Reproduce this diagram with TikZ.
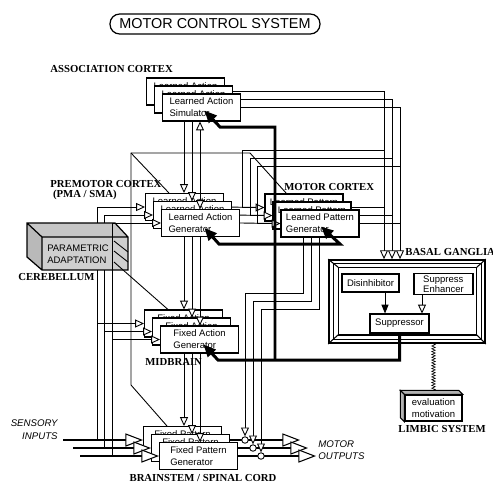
\documentclass[tikz,border=0pt]{standalone}
\usepackage{fontspec}
\setmainfont{Liberation Serif}
\setsansfont{Liberation Sans}
\usetikzlibrary{positioning,calc,arrows.meta,decorations.pathmorphing}

\pgfdeclarelayer{back}
\pgfsetlayers{back,main}

\tikzset{
  unit/.style={draw, fill=white, line width=0.6pt, minimum width=1.56cm,
    minimum height=0.54cm, inner sep=1pt, align=left,
    font=\sffamily\fontsize{5.4}{6.8}\selectfont},
  peek/.style={text height=4pt, text depth=6.8pt},
  bgunit/.style={draw, fill=white, line width=0.6pt, inner sep=1pt,
    align=left, font=\sffamily\fontsize{5.4}{5.9}\selectfont},
  tag/.style={inner sep=0pt, align=left,
    font=\bfseries\fontsize{6.1}{5.7}\selectfont},
  io/.style={inner sep=0pt, font=\sffamily\itshape\fontsize{5.5}{7.4}\selectfont},
  wire/.style={line width=0.5pt},
  into/.style={-{Triangle[fill=white,length=5pt,width=4.5pt,line width=0.5pt]}},
  bothway/.style={{Triangle[fill=white,length=5pt,width=4.5pt,line width=0.5pt]}-{Triangle[fill=white,length=5pt,width=4.5pt,line width=0.5pt]}},
  fat/.style={line width=1.4pt, -{Triangle[fill=white,length=10pt,width=7.5pt,line width=0.6pt]}},
  fbk/.style={line width=1.7pt, -{Triangle[length=7pt,width=6pt]}},
  sum/.style={circle, draw, fill=white, minimum size=0.13cm, inner sep=0pt, line width=0.5pt},
}

% three stacked modules, front one named #1
\newcommand{\lvstack}[5]{%
  \node[unit, peek] (#1b) at ($(#2,#3)+(-16,-16)$) {#4};
  \node[unit, peek] (#1m) at ($(#2,#3)+(-8,-8)$) {#4};
  \node[unit] (#1) at (#2,#3) {#4\\#5};
}

\begin{document}
\begin{tikzpicture}[x=0.02cm, y=-0.02cm]
\useasboundingbox (0,0) rectangle (493,485);

\node[draw, rounded corners=5.5pt, line width=0.7pt, minimum width=4.2cm,
  minimum height=0.4cm, inner sep=1pt,
  font=\sffamily\fontsize{8.2}{9}\selectfont] (title) at (215,24) {MOTOR CONTROL SYSTEM};

% wire columns and rows
\coordinate (d1) at (184,0);
\coordinate (d2) at (192,0);
\coordinate (d3) at (200,0);
\coordinate (v1) at (97,0);
\coordinate (v2) at (104,0);
\coordinate (v3) at (112,0);
\coordinate (b1) at (384,0);
\coordinate (b2) at (392,0);
\coordinate (b3) at (400,0);
\coordinate (m1) at (242,0);
\coordinate (m2) at (250,0);
\coordinate (m3) at (257,0);
\coordinate (r1) at (0,150);
\coordinate (r2) at (0,158);
\coordinate (r3) at (0,166);
\coordinate (o1) at (303,0);
\coordinate (o2) at (311,0);
\coordinate (o3) at (319,0);
\coordinate (t1) at (0,293);
\coordinate (t2) at (0,301);
\coordinate (t3) at (0,309);
\coordinate (k1) at (245,0);
\coordinate (k2) at (253,0);
\coordinate (k3) at (261,0);
\coordinate (sx1) at (63,0);
\coordinate (sx2) at (73,0);
\coordinate (sx3) at (80,0);
\coordinate (ox1) at (300,0);
\coordinate (ox2) at (308,0);
\coordinate (ox3) at (316,0);

% levels
\lvstack{as}{201.5}{107.5}{Learned Action}{Simulator}
\lvstack{pm}{200.5}{223}{Learned Action}{Generator}
\lvstack{mc}{320}{223.5}{Learned Pattern}{Generator}
\lvstack{mb}{199.5}{339.5}{Fixed Action}{Generator}
\lvstack{bs}{198.5}{456}{Fixed Pattern}{Generator}

\node[sum] (sum1) at (k1 |- bsb.east) {};
\node[sum] (sum2) at (k2 |- bsm.east) {};
\node[sum] (sum3) at (k3 |- bs.east) {};

% basal ganglia
\node[draw, line width=1pt, minimum width=3.12cm, minimum height=1.66cm] (bg) at (407,301.5) {};
\draw[line width=0.6pt] ($(bg.north west)+(5,4)$) rectangle ($(bg.south east)+(-4,-4)$);
\draw[line width=0.7pt] ($(bg.north west)+(10,8)$) rectangle ($(bg.south east)+(-9,-9)$);
\draw[line width=0.6pt] (bg.north west) -- ++(10,8) (bg.north east) -- ++(-9,8)
  (bg.south west) -- ++(10,-9) (bg.south east) -- ++(-9,-9);
\node[bgunit, minimum width=1.14cm, minimum height=0.36cm] (dis) at (370.5,283) {Disinhibitor};
\node[bgunit, minimum width=1.18cm, minimum height=0.4cm] (enh) at (443.5,284) {Suppress\\Enhancer};
\node[bgunit, minimum width=1.18cm, minimum height=0.38cm] (sup) at (399.5,323.5) {Suppressor};
\coordinate (a1) at (385,0);
\coordinate (a2) at (422,0);
\draw[wire, -{Triangle[length=5pt,width=4pt]}] (dis.south -| a1) -- (sup.north -| a1);
\draw[wire, into] (enh.south -| a2) -- (sup.north -| a2);

% limbic system
\node[draw, fill=white, line width=0.8pt, minimum width=1.14cm, minimum height=0.52cm,
  inner sep=1pt, align=center, font=\sffamily\fontsize{5.4}{6.8}\selectfont]
  (lim) at (433.5,408) {evaluation\\motivation};
\filldraw[fill=gray!60, line width=0.6pt] (lim.north west) -- ++(-4,-4)
  -- ($(lim.north east)+(-4,-4)$) -- (lim.north east) -- cycle;
\filldraw[fill=gray!60, line width=0.6pt] (lim.north west) -- ++(-4,-4)
  -- ($(lim.south west)+(-4,-4)$) -- (lim.south west) -- cycle;
\draw[line width=0.35pt, decorate, decoration={zigzag, amplitude=1pt, segment length=1.6pt}]
  (bg.south -| lim) -- ($(lim.north)+(0,-4)$);

% drops between levels
\draw[wire,into] (as.south -| d1) -- (pmb.north -| d1);
\draw[wire,into] (as.south -| d2) -- (pmm.north -| d2);
\draw[wire,bothway] (as.south -| d3) -- (pm.north -| d3);
\draw[wire,into] (pm.south -| d1) -- (mbb.north -| d1);
\draw[wire,into] (pm.south -| d2) -- (mbm.north -| d2);
\draw[wire,into] (pm.south -| d3) -- (mb.north -| d3);
\draw[wire,into] (mb.south -| d1) -- (bsb.north -| d1);
\draw[wire,into] (mb.south -| d2) -- (bsm.north -| d2);
\draw[wire,into] (mb.south -| d3) -- (bs.north -| d3);

% sensory inputs
\draw[fat] (sx1 |- bsb.west) -- (bsb.west);
\draw[fat] (sx2 |- bsm.west) -- (bsm.west);
\draw[fat] (sx3 |- bs.west) -- (bs.west);
\draw[wire,into] (v1 |- bsb.west) |- (pmb.west);
\draw[wire,into] (v2 |- bsm.west) |- (pmm.west);
\draw[wire,into] (v1 |- mbb.west) -- (mbb.west);
\draw[wire,into] (v2 |- mbm.west) -- (mbm.west);

% cerebellum
\fill[gray!45] (27,223) -- (115,223) -- (128,237) -- (42,237) -- cycle;
\fill[gray!55] (27,223) -- (42,237) -- (42,270) -- (27,257) -- cycle;
\fill[gray!38] (42,237) rectangle (128,270);
\draw[line width=0.7pt] (27,223) -- (115,223) -- (128,237) -- (128,270) -- (42,270) -- (27,257) -- cycle
  (27,223) -- (42,237) -- (128,237) (42,237) -- (42,270);
\node[inner sep=0pt, align=left, font=\sffamily\fontsize{5.4}{6.8}\selectfont] (cb) at (78,254) {PARAMETRIC\\ADAPTATION};
\draw[wire] (114,241) -- (128,252) (114,251) -- (128,262);

\draw[wire,into] (v3 |- bs.west) |- (pm.west);
\draw[wire,into] (v3 |- mb.west) -- (mb.west);

% adaptation lines
\coordinate (cbtop) at (131,153);
\coordinate (cbbend) at (131,385);
\coordinate (cbright) at (250,153);
\coordinate (cbout) at (114,262);
\draw[wire] (cbright) -- (cbtop) -- (cbbend) -- ($(bsb.north west)+(24,0)$);
\draw[wire] (cbtop) -- ($(pmb.north west)+(24,0)$);
\draw[wire] (cbright) -- ($(mcb.north west)+(22,0)$);
\draw[wire] (cbout) -- ($(mbb.north west)+(24,0)$);

% association to motor cortex
\draw[wire,into] (b1 |- r1) -| (m1 |- mcb.west) -- (mcb.west);
\draw[wire,into] (b2 |- r2) -| (m2 |- mcm.west) -- (mcm.west);
\draw[wire,into] (b3 |- r3) -| (m3 |- mc.west) -- (mc.west);

% motor cortex to brainstem outputs
\draw[wire,into] (mc.south -| o1) |- (k1 |- t1) -- (sum1);
\draw[wire,into] (mc.south -| o2) |- (k2 |- t2) -- (sum2);
\draw[wire,into] (mc.south -| o3) |- (k3 |- t3) -- (sum3);

\begin{pgfonlayer}{back}
\draw[wire,into] (asb.east) -| (b1 |- bg.north);
\draw[wire,into] (asm.east) -| (b2 |- bg.north);
\draw[wire,into] (as.east) -| (b3 |- bg.north);
\draw[wire] (pmb.east) -- (mcb.west);
\draw[wire] (pmm.east) -- (mcm.west);
\draw[wire] (pm.east) -- (mc.west);
\draw[wire] (mcb.east) -- (b1 |- mcb.east);
\draw[wire] (mcm.east) -- (b2 |- mcm.east);
\draw[wire] (mc.east) -- (b3 |- mc.east);
\draw[fat] (bsb.east) -- (ox1 |- bsb.east);
\draw[fat] (bsm.east) -- (ox2 |- bsm.east);
\draw[fat] (bs.east) -- (ox3 |- bs.east);
\end{pgfonlayer}

% suppression feedback
\coordinate (asfb) at ($(as.center)+(3,3)$);
\coordinate (pmfb) at ($(pm.center)+(4,5)$);
\coordinate (mcfb) at ($(mc.center)+(1,3)$);
\coordinate (mbfb) at ($(mb.center)+(4,5)$);
\coordinate (asel) at (220,127);
\coordinate (pmel) at (219,244);
\coordinate (mcel) at (340,244);
\coordinate (mbel) at (218,360);
\coordinate (fbcol) at (275,0);
\draw[fbk] (sup.south) |- (mbel) -- (mbfb);
\draw[fbk] (fbcol |- mbel) |- (asel) -- (asfb);
\draw[fbk, {Triangle[length=7pt,width=6pt]}-{Triangle[length=7pt,width=6pt]}] (pmfb) -- (pmel) -- (mcel) -- (mcfb);

% labels
\node[tag, anchor=west] (las) at (50,69) {ASSOCIATION CORTEX};
\node[tag, anchor=west] (lpm) at (50,190) {PREMOTOR CORTEX\\\ (PMA / SMA)};
\node[tag, anchor=west] (lmc) at (284,187) {MOTOR CORTEX};
\node[tag, anchor=west] (lbg) at (405,252) {BASAL GANGLIA};
\node[tag, anchor=west] (lcb) at (18,277) {CEREBELLUM};
\node[tag, anchor=west] (lmb) at (145,362) {MIDBRAIN};
\node[tag] (lbs) at (203,478) {BRAINSTEM / SPINAL CORD};
\node[tag] (llim) at (442,429) {LIMBIC SYSTEM};
\node[io, anchor=east, align=right] (sens) at (58,430) {SENSORY\\INPUTS};
\node[io, anchor=west, align=left, font=\sffamily\itshape\fontsize{5.5}{6.8}\selectfont] (mout) at (318,450) {MOTOR\\OUTPUTS};
\end{tikzpicture}
\end{document}
